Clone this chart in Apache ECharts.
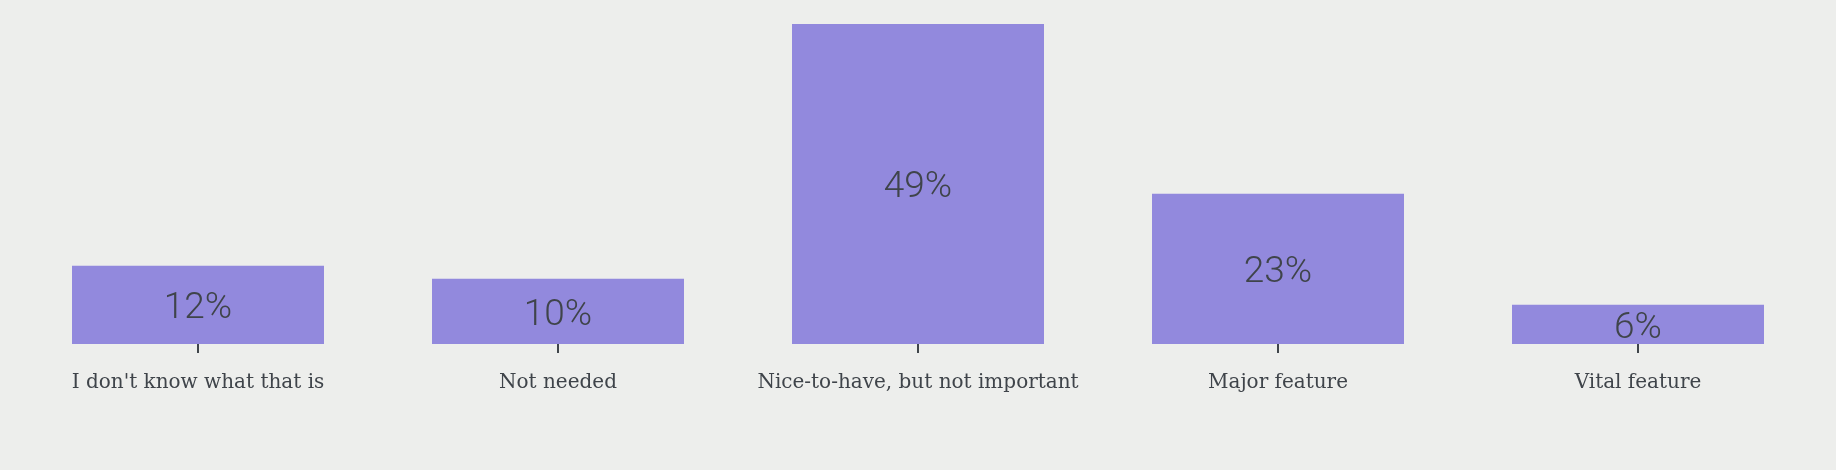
<!DOCTYPE html>
<html>
<head>
<meta charset="utf-8">
<script src="https://cdn.jsdelivr.net/npm/echarts@6/dist/echarts.min.js"></script>
<style>
html,body{margin:0;padding:0;background:#edeeec;}
#chart{width:1836px;height:470px;}
</style>
</head>
<body>
<div id="chart"></div>
<script>
var categories=["I don't know what that is",'Not needed','Nice-to-have, but not important','Major feature','Vital feature'];
var values=[12,10,49,23,6];

var txtColor='#3f444a';
var chart=echarts.init(document.getElementById('chart'));
var option={
	backgroundColor:'#edeeec',
	animation:false,
	grid:{left:18,right:18,top:24,bottom:126},
	xAxis:{
		type:'category',
		data:categories,
		axisLine:{show:false},
		axisTick:{show:true,interval:0,alignWithLabel:true,length:9,lineStyle:{color:txtColor,width:2}},
		axisLabel:{
			interval:0,
			color:txtColor,
			fontFamily:'DejaVu Serif',
			fontSize:20,
			margin:29
		}
	},
	yAxis:{
		type:'value',
		min:0,
		max:49,
		show:false,
		splitLine:{show:false}
	},
	series:[{
		type:'bar',
		data:values,
		barWidth:'70%',
		itemStyle:{color:'#9289dd'},
		label:{
			show:true,
			position:'inside',
			offset:[0,4],
			formatter:'{c}%',
			color:txtColor,
			fontFamily:'Roboto',
			fontWeight:300,
			fontSize:37
		}
	}]
};
chart.setOption(option);
</script>
</body>
</html>
